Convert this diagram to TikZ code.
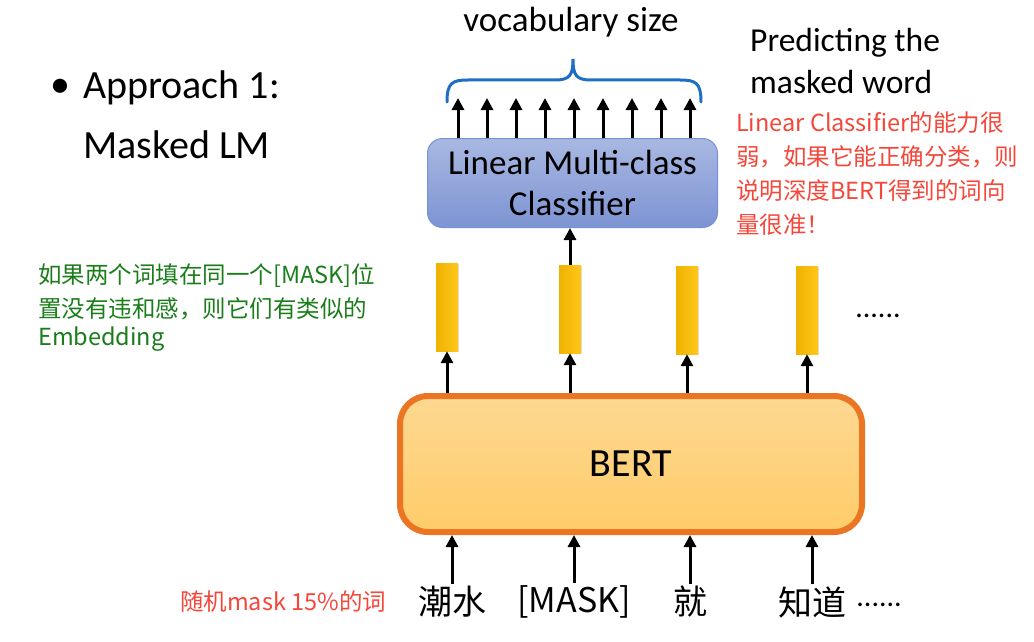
\documentclass[tikz,border=0pt]{standalone}
\usepackage{fontspec}
\setmainfont{Carlito}
\newfontfamily\cjk{Noto Sans CJK SC}
\usetikzlibrary{arrows.meta, positioning, calc, shadows}
\definecolor{clftop}{HTML}{A9B8E2}
\definecolor{clfbot}{HTML}{7D94D3}
\definecolor{clfline}{HTML}{7492D6}
\definecolor{berttop}{HTML}{FDD891}
\definecolor{bertbot}{HTML}{FFCC69}
\definecolor{bertline}{HTML}{EC7523}
\definecolor{vecleft}{HTML}{EFB200}
\definecolor{vecright}{HTML}{FFC61A}
\definecolor{bracecol}{HTML}{1E6FC2}
\definecolor{notered}{HTML}{F4473A}
\definecolor{notegreen}{HTML}{1A7D1A}
\newcommand{\fsz}[2]{\fontsize{#1}{#2}\selectfont}

\begin{document}
\begin{tikzpicture}[x=1pt, y=-1pt,
    up/.style={-{Triangle[width=12pt,length=12pt]}, line width=3pt},
    vec/.style={minimum width=22pt, minimum height=88pt, inner sep=0pt,
      left color=vecleft, right color=vecright,
      drop shadow={shadow xshift=1pt, shadow yshift=-1pt, opacity=0.25}},
    word/.style={font=\cjk\fsz{34}{40}, inner sep=2pt},
    note/.style={font=\cjk\fsz{23.5}{34}, align=left, anchor=north west, inner sep=0pt}]
  \useasboundingbox (0,0) rectangle (1034,642);

  % title
  \node[font=\fsz{40}{60}] (bullet) at (60,88) {•};
  \node[font=\fsz{40}{60}, align=left, anchor=north west, inner sep=0pt] (title) at (83,71)
    {Approach 1:\\Masked LM};

  % BERT and its inputs
  \node[draw=bertline, line width=6pt, rounded corners=28pt, top color=berttop, bottom color=bertbot,
    minimum width=462pt, minimum height=136pt, font=\fsz{40}{48}] (bert) at (631,464) {BERT};
  \node[word] (w1) at (452,602) {潮水};
  \node[word] (w2) at (574,602) {[MASK]};
  \node[word] (w3) at (690,602) {就};
  \node[word] (w4) at (812,602) {知道};
  \node[font=\fsz{30}{36}, anchor=west, inner sep=0pt] (wdots) at ([xshift=8pt, yshift=-3pt]w4.east) {......};
  \foreach \i in {1,...,4}
    \draw[up] (w\i.north) -- (w\i.north |- bert.south);

  % contextual vectors
  \node[vec] (v1) at (447,307) {};
  \node[vec] (v2) at (570,309) {};
  \node[vec] (v3) at (687,310) {};
  \node[vec] (v4) at (807,310) {};
  \node[font=\fsz{30}{36}] (vdots) at (878,316) {......};
  \foreach \i in {1,...,4}
    \draw[up] (v\i.south |- bert.north) -- (v\i.south);

  % classifier on top of the masked position
  \node[draw=clfline, line width=1pt, rounded corners=15pt, top color=clftop, bottom color=clfbot,
    minimum width=290pt, minimum height=89pt, align=center, font=\fsz{35}{41}] (clf) at (572.5,183)
    {Linear Multi-class\\Classifier};
  \draw[up] (v2.north) -- (v2.north |- clf.south);
  \foreach \k in {0,...,8}
    \draw[up] ([xshift=31pt+29pt*\k]clf.north west) -- ++(0,-40);

  \draw[bracecol, line width=3pt, line cap=round]
    (447,102) .. controls (447,83) and (452,80) .. (468,80) -- (555,80)
    .. controls (570,80) and (573,75) .. (573,59)
    .. controls (573,75) and (576,80) .. (591,80) -- (680,80)
    .. controls (696,80) and (701,83) .. (701,102);
  \coordinate (bracetip) at (573,59);
  \node[font=\fsz{35}{40}] (vocab) at (571,22) {vocabulary size};
  \node[font=\fsz{33.5}{42}, align=left, anchor=north west, inner sep=0pt] (predict) at (750,28)
    {Predicting the\\masked word};

  % notes
  \node[note, text=notered] (redtop) at (736,111)
    {Linear Classifier的能力很\\弱，如果它能正确分类，则\\说明深度BERT得到的词向\\量很准！};
  \node[note, text=notegreen] (greennote) at (38,263)
    {如果两个词填在同一个[MASK]位\\置没有违和感，则它们有类似的\\[-6pt]Embedding};
  \node[font=\cjk\fsz{23.5}{28}, text=notered, anchor=west, inner sep=0pt] (redbot) at (180,602)
    {随机mask 15\%的词};
\end{tikzpicture}
\end{document}
